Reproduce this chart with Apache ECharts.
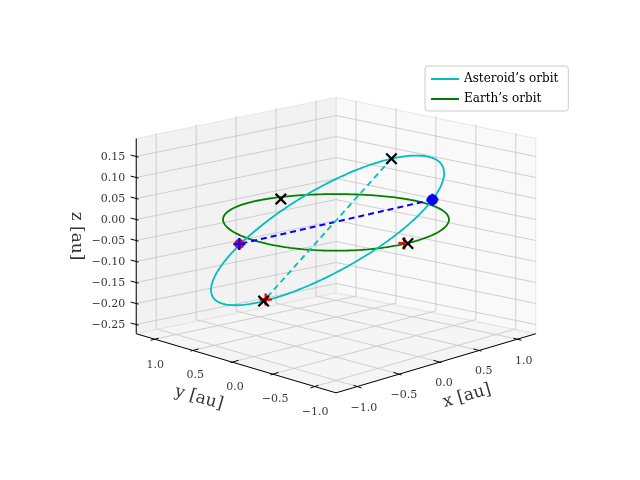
<!DOCTYPE html>
<html>
<head>
<meta charset="utf-8">
<script src="https://cdn.jsdelivr.net/npm/echarts@6/dist/echarts.min.js"></script>
<style>html,body{margin:0;padding:0;background:#fff}#chart{width:640px;height:480px}</style>
</head>
<body>
<div id="chart"></div>
<script>
// axis limits and ticks (au)
const xLim = [-1.25, 1.25];
const yLim = [-1.25, 1.25];
const zLim = [-0.272, 0.193];
const xyTicks = [-1.0, -0.5, 0.0, 0.5, 1.0];
const zTicks = [-0.25, -0.2, -0.15, -0.1, -0.05, 0.0, 0.05, 0.1, 0.15];

// asteroid orbit: centre and two conjugate semi-diameters
const astCenter = [-0.10, 0.006, -0.02];
const astA = [1.18, -0.04, 0.0];
const astB = [0.55, -0.25, 0.155];
const earthRadius = 1.0;

// marked positions
const nodes = [[1.141, -0.066, 0.0], [-1.17, 0.04, 0.0]];
const apsides = [[0.45, -0.244, 0.135], [-0.65, 0.256, -0.175]];
const blackCrosses = [[0.45, -0.244, 0.135], [-0.65, 0.256, -0.175], [0.21, 0.90, 0.0], [-0.105, -1.005, 0.0]];
const redPluses = [[-0.63, 0.25, -0.172], [-0.12, -0.975, 0.0]];
const bluePluses = [[1.141, -0.066, 0.0], [-1.17, 0.04, 0.0]];
const blueDots = [[1.141, -0.066, 0.0]];
const redDots = [[-1.17, 0.04, 0.0]];

// rough view: azimuth 45deg, small perspective on depth
const S = Math.SQRT1_2, KU = 113, KD = 28.3, KQ = -2.9, KZ = 420, U0 = 336, V0 = 219.5;
function P(p) {
  const d = (p[0] + p[1]) * S;
  return [U0 + KU * (p[0] - p[1]) * S, V0 - KD * d - KQ * d * d - KZ * p[2]];
}
function seg(a, b) { const p = P(a), q = P(b); return [p[0], p[1], q[0], q[1]]; }

const fmt = (v, d) => (v < 0 ? "\u2212" : "") + Math.abs(v).toFixed(d);

// panes
const [x0, x1] = xLim, [y0, y1] = yLim, [z0, z1] = zLim;
const panes = [
  { pts: [[x0, y0, z0], [x1, y0, z0], [x1, y1, z0], [x0, y1, z0]], color: "#f5f5f5" },
  { pts: [[x1, y0, z0], [x1, y1, z0], [x1, y1, z1], [x1, y0, z1]], color: "#f9f9f9" },
  { pts: [[x0, y1, z0], [x1, y1, z0], [x1, y1, z1], [x0, y1, z1]], color: "#f2f2f2" },
];

const gridSegs = [];
xyTicks.forEach((t) => {
  gridSegs.push(seg([t, y0, z0], [t, y1, z0]));
  gridSegs.push(seg([x0, t, z0], [x1, t, z0]));
  gridSegs.push(seg([x1, t, z0], [x1, t, z1]));
  gridSegs.push(seg([t, y1, z0], [t, y1, z1]));
});
zTicks.forEach((t) => {
  gridSegs.push(seg([x1, y0, t], [x1, y1, t]));
  gridSegs.push(seg([x0, y1, t], [x1, y1, t]));
});
const edgeSegs = [];
panes.forEach((pn) => {
  for (let i = 0; i < 4; i += 1) edgeSegs.push(seg(pn.pts[i], pn.pts[(i + 1) % 4]));
});

const axisSegs = [
  seg([x0, y0, z0], [x1, y0, z0]),
  seg([x0, y0, z0], [x0, y1, z0]),
  seg([x0, y1, z0], [x0, y1, z1]),
];
xyTicks.forEach((t) => {
  axisSegs.push(seg([t, y0 + 0.03, z0], [t, y0 - 0.07, z0]));
  axisSegs.push(seg([x0 + 0.03, t, z0], [x0 - 0.07, t, z0]));
});
zTicks.forEach((t) => axisSegs.push(seg([x0, y1 - 0.03, t], [x0, y1 + 0.07, t])));

const earthPts = [];
const astPts = [];
for (let i = 0; i <= 240; i += 1) {
  const t = (i / 240) * 2 * Math.PI;
  earthPts.push(P([earthRadius * Math.cos(t), earthRadius * Math.sin(t), 0]));
  astPts.push(P([0, 1, 2].map((k) => astCenter[k] + Math.cos(t) * astA[k] + Math.sin(t) * astB[k])));
}

const xLabels = xyTicks.map((t) => { const p = P([t, y0, z0]); return [p[0] + 8, p[1] + 22, fmt(t, 1)]; });
const yLabels = xyTicks.map((t) => { const p = P([x0, t, z0]); return [p[0] - 1, p[1] + 26, fmt(t, 1)]; });
const zLabels = zTicks.map((t) => { const p = P([x0, y1, t]); return [p[0] - 6, p[1] + 1, fmt(t, 2)]; });

const FONT = "DejaVu Serif";
const CROSS = "path://M1.3,0L5,3.7L8.7,0L10,1.3L6.3,5L10,8.7L8.7,10L5,6.3L1.3,10L0,8.7L3.7,5L0,1.3Z";
const PLUS = "path://M4,0H6V4H10V6H6V10H4V6H0V4H4Z";

function segSeries(data, color, width) {
  return {
    type: "custom",
    silent: true,
    data,
    renderItem: (params, api) => {
      const a = api.coord([api.value(0), api.value(1)]);
      const b = api.coord([api.value(2), api.value(3)]);
      return { type: "line", shape: { x1: a[0], y1: a[1], x2: b[0], y2: b[1] }, style: { stroke: color, lineWidth: width } };
    },
  };
}
function textSeries(data, opts) {
  return {
    type: "scatter",
    silent: true,
    symbolSize: 0,
    data,
    label: Object.assign({ show: true, position: "inside", formatter: (p) => p.value[2], color: "#000", fontFamily: FONT, fontSize: 11 }, opts),
  };
}
function markSeries(points, symbol, size, color, extra) {
  return Object.assign({ type: "scatter", silent: true, symbol, symbolSize: size, data: points.map(P), itemStyle: { color, opacity: 1 }, z: 5 }, extra || {});
}

const chart = echarts.init(document.getElementById("chart"));
chart.setOption({
  animation: false,
  grid: { left: 0, right: 0, top: 0, bottom: 0 },
  xAxis: { type: "value", min: 0, max: 640, show: false },
  yAxis: { type: "value", min: 0, max: 480, inverse: true, show: false },
  legend: {
    left: 425, top: 66, orient: "vertical", itemGap: 8, padding: [7, 10, 6, 6],
    borderColor: "#cccccc", borderWidth: 1, borderRadius: 3, backgroundColor: "rgba(255,255,255,0.8)",
    itemWidth: 28, itemHeight: 2, icon: "rect",
    textStyle: { fontFamily: FONT, fontSize: 12, color: "#000" },
    data: ["Asteroid\u2019s orbit", "Earth\u2019s orbit"],
  },
  series: [
    {
      type: "custom", silent: true, data: panes.map((_, i) => i),
      renderItem: (params, api) => {
        const pn = panes[params.dataIndex];
        return { type: "polygon", shape: { points: pn.pts.map((p) => api.coord(P(p))) }, style: { fill: pn.color } };
      },
    },
    segSeries(edgeSegs, "#e6e6e6", 1),
    segSeries(gridSegs, "#c4c4c4", 0.8),
    segSeries(axisSegs, "#000000", 1),
    textSeries(xLabels, {}),
    textSeries(yLabels, {}),
    textSeries(zLabels, { align: "right", position: "left" }),
    textSeries([[467, 396, "x [au]"]], { fontSize: 17, rotate: 16 }),
    textSeries([[199, 398, "y [au]"]], { fontSize: 17, rotate: -16 }),
    textSeries([[76, 236, "z [au]"]], { fontSize: 17, rotate: -90 }),
    { name: "Earth\u2019s orbit", type: "line", data: earthPts, showSymbol: false, silent: true, color: "#008000", lineStyle: { width: 1.8, color: "#008000" }, z: 3 },
    { name: "Asteroid\u2019s orbit", type: "line", data: astPts, showSymbol: false, silent: true, color: "#00bfbf", lineStyle: { width: 1.8, color: "#00bfbf" }, z: 3 },
    { type: "line", data: nodes.map(P), showSymbol: false, silent: true, lineStyle: { width: 2, color: "#0000ff", type: [6, 4] }, z: 4 },
    { type: "line", data: apsides.map(P), showSymbol: false, silent: true, lineStyle: { width: 1.8, color: "#00bfbf", type: [6, 4] }, z: 4 },
    markSeries(redDots, "circle", 10, "#ff0000"),
    markSeries(blueDots, "circle", 11, "#0000ff"),
    markSeries(redPluses, PLUS, 12, "#ff0000"),
    markSeries(blackCrosses, CROSS, 12, "#000000"),
    markSeries(bluePluses, PLUS, 12, "#0000ff"),
  ],
});
</script>
</body>
</html>
